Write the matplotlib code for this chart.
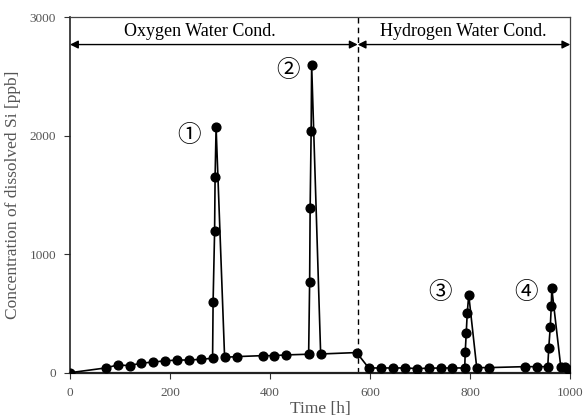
import matplotlib
matplotlib.use("Agg")
import matplotlib.pyplot as plt

# Measured dissolved Si concentration over operating time
time_h = [0, 71, 95, 119, 142, 166, 190, 214, 238, 261, 285,
          286, 289, 290, 292, 309, 334, 385, 407, 431,
          477, 479, 480, 482, 483, 501, 573,
          597, 621, 645, 669, 694, 717, 741, 764, 789,
          790, 792, 794, 797, 813, 837, 909, 933, 955,
          957, 960, 962, 963, 981, 990, 997]
si_ppb = [0, 40, 65, 60, 80, 90, 100, 107, 107, 113, 122,
          597, 1192, 1653, 2070, 130, 136, 144, 144, 150,
          156, 769, 1390, 2040, 2600, 158, 170,
          40, 40, 40, 40, 35, 38, 40, 40, 40,
          172, 333, 500, 658, 43, 43, 51, 51, 51,
          212, 385, 560, 712, 50, 50, 25]

switch_time = 575
phase_labels = ["Oxygen Water Cond.", "Hydrogen Water Cond."]
event_marks = ["①", "②", "③", "④"]
event_pos = [(237, 2000), (435, 2550), (739, 675), (912, 675)]

x_ticks = [0, 200, 400, 600, 800, 1000]
y_ticks = [0, 1000, 2000, 3000]

serif = ["Liberation Serif", "DejaVu Serif"]
plt.rcParams["font.family"] = serif

fig = plt.figure(figsize=(5.84, 4.19), dpi=100)
ax = fig.add_axes([0.1199, 0.1105, 0.8566, 0.8482])

ax.plot(time_h, si_ppb, color="black", lw=1.2, marker="o", ms=6.3,
        mfc="black", mec="black", zorder=3)

ax.set_xlim(0, 1000)
ax.set_ylim(0, 3000)
ax.set_xticks(x_ticks)
ax.set_yticks(y_ticks)
ax.tick_params(axis="both", direction="out", length=4, width=0.8,
               labelsize=9.5, labelcolor="#555555", color="#333333")
ax.tick_params(axis="x", pad=6)
ax.tick_params(axis="y", pad=6)

for side in ["left", "bottom"]:
    ax.spines[side].set_color("#222222")
ax.spines["left"].set_linewidth(1.2)
ax.spines["bottom"].set_linewidth(1.6)
for side in ["top", "right"]:
    ax.spines[side].set_color("#444444")
    ax.spines[side].set_linewidth(0.9)

ax.set_xlabel("Time [h]", fontsize=12.5, color="#555555", labelpad=2)
ax.set_ylabel("Concentration of dissolved Si [ppb]", fontsize=12.5,
              color="#555555", labelpad=6)

# Phase separator and phase arrows
ax.axvline(switch_time, color="black", lw=1.0, ls=(0, (4, 3)), zorder=2)
arrow_y = 2770
arrow_kw = dict(arrowstyle="<|-|>", color="black", lw=1.0,
                mutation_scale=12, shrinkA=0, shrinkB=0)
ax.annotate("", xy=(0, arrow_y), xytext=(switch_time, arrow_y),
            arrowprops=arrow_kw)
ax.annotate("", xy=(switch_time, arrow_y), xytext=(1000, arrow_y),
            arrowprops=arrow_kw)
ax.text(259, 2880, phase_labels[0], ha="center", va="center", fontsize=13)
ax.text(787, 2880, phase_labels[1], ha="center", va="center", fontsize=13)

for mark, (mx, my) in zip(event_marks, event_pos):
    ax.text(mx, my, mark, ha="center", va="center", fontsize=17,
            family=["Noto Sans CJK JP", "DejaVu Sans"])

fig.savefig("out.png", dpi=100)
